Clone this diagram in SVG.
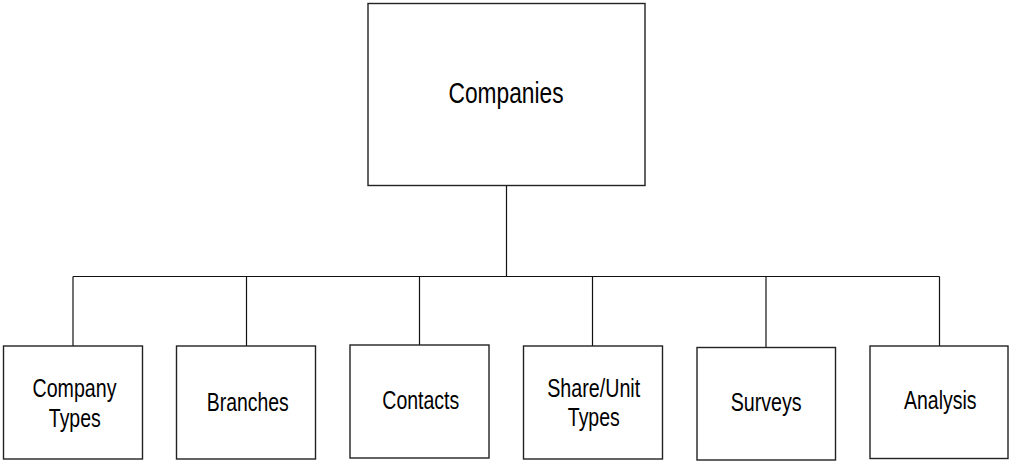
<svg xmlns="http://www.w3.org/2000/svg" width="1009" height="461" viewBox="0 0 1009 461">
<style>
.box{fill:#fff;stroke:#222;stroke-width:1.4}
.conn{fill:none;stroke:#111;stroke-width:1.2}
.t{font-family:"Liberation Sans",Arial,sans-serif;fill:#000;text-anchor:middle}
.big{font-size:30px}
.small{font-size:26px}
</style>
<rect width="1009" height="461" fill="#fff"/>
<g id="connectors">
<path class="conn" d="M506.5,186 V276.5"/>
<path class="conn" d="M73,276.5 H939.5"/>
<path class="conn" d="M73,276.5 V346"/>
<path class="conn" d="M246.5,276.5 V346"/>
<path class="conn" d="M419.5,276.5 V345"/>
<path class="conn" d="M592.5,276.5 V346"/>
<path class="conn" d="M766,276.5 V347"/>
<path class="conn" d="M939.5,276.5 V346"/>
</g>
<g id="companies">
<rect class="box" x="368" y="3.5" width="277" height="182"/>
<text class="t big" x="506" y="103.3" textLength="115" lengthAdjust="spacingAndGlyphs">Companies</text>
</g>
<g id="company-types">
<rect class="box" x="3.5" y="346" width="139" height="113"/>
<text class="t small" x="74.5" y="396.8" textLength="84" lengthAdjust="spacingAndGlyphs">Company</text>
<text class="t small" x="74.8" y="426.5" textLength="52" lengthAdjust="spacingAndGlyphs">Types</text>
</g>
<g id="branches">
<rect class="box" x="176.5" y="346" width="139" height="113"/>
<text class="t small" x="247.8" y="410.5" textLength="82" lengthAdjust="spacingAndGlyphs">Branches</text>
</g>
<g id="contacts">
<rect class="box" x="350" y="345" width="139" height="113"/>
<text class="t small" x="420.8" y="408.5" textLength="77" lengthAdjust="spacingAndGlyphs">Contacts</text>
</g>
<g id="share-unit-types">
<rect class="box" x="523.5" y="346" width="139" height="113"/>
<text class="t small" x="593.7" y="396.5" textLength="93" lengthAdjust="spacingAndGlyphs">Share/Unit</text>
<text class="t small" x="593.8" y="426" textLength="52" lengthAdjust="spacingAndGlyphs">Types</text>
</g>
<g id="surveys">
<rect class="box" x="697" y="347.5" width="138.5" height="112.5"/>
<text class="t small" x="766.2" y="410.5" textLength="71" lengthAdjust="spacingAndGlyphs">Surveys</text>
</g>
<g id="analysis">
<rect class="box" x="870" y="346" width="138" height="112.5"/>
<text class="t small" x="940.3" y="408.5" textLength="72.5" lengthAdjust="spacingAndGlyphs">Analysis</text>
</g>
</svg>
